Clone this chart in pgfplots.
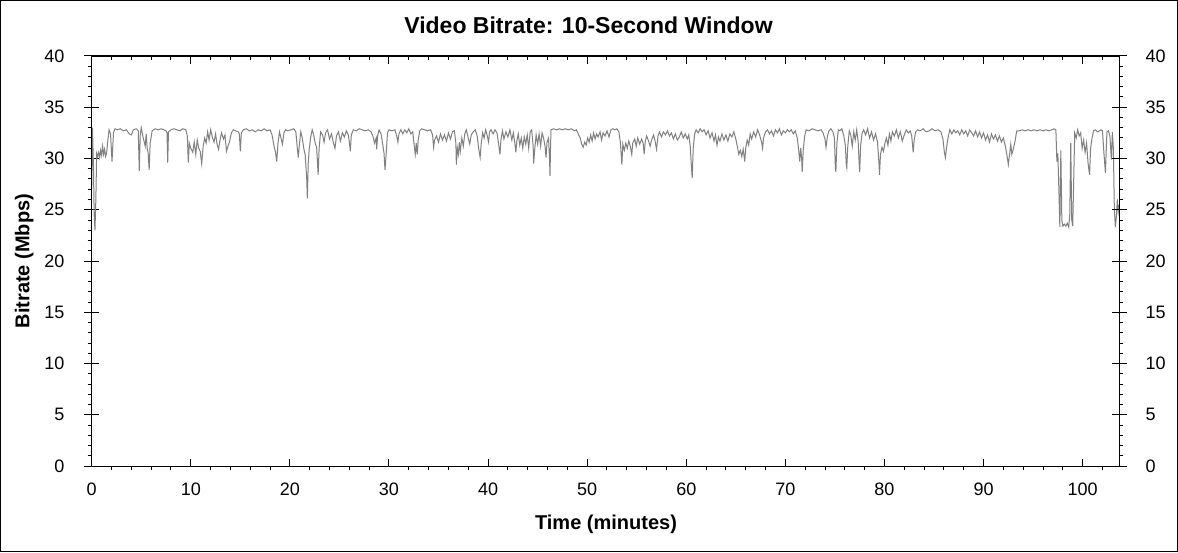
\documentclass[border=0pt]{standalone}
\usepackage{fontspec}
\setmainfont{Liberation Sans}
\usepackage{pgfplots}
\usepackage{pgfplotstable}
\pgfplotsset{compat=1.18}

\definecolor{trace}{RGB}{128,128,128}
\newcommand{\ticksize}{\fontsize{18}{21}\selectfont}

% 10-second window bitrate, minutes vs Mbps
\pgfplotstableread{
t v
0 27.0
0.08 33.0
0.17 29.5
0.25 24.5
0.33 23.0
0.42 26.0
0.5 30.5
0.6 30.2
0.7 30.6
0.8 30.1
0.9 30.8
1.0 30.3
1.1 31.2
1.2 30.4
1.3 30.9
1.4 30.2
1.5 30.5
1.6 31.5
1.75 32.8
1.9 32.4
2.05 29.7
2.2 32.5
2.35 32.9
2.6 32.8
2.9 32.9
3.2 32.7
3.5 32.8
3.8 32.4
4.0 32.3
4.2 32.8
4.5 32.9
4.7 32.7
4.8 28.8
4.9 32.3
5.0 33.0
5.2 32.0
5.4 31.2
5.5 32.4
5.6 31.0
5.7 30.5
5.8 28.9
5.9 31.5
6.1 32.7
6.4 32.9
6.7 32.8
7.0 32.9
7.3 32.8
7.5 32.7
7.6 32.5
7.67 29.6
7.75 32.6
8.0 32.8
8.3 32.9
8.6 32.8
8.9 32.7
9.2 32.9
9.5 32.8
9.65 32.2
9.75 29.6
9.85 31.5
10.0 31.0
10.2 30.6
10.35 31.6
10.5 30.4
10.65 31.8
10.8 31.0
10.95 30.7
11.1 29.5
11.25 31.2
11.4 32.0
11.55 31.5
11.7 32.6
11.85 31.8
12.0 32.8
12.2 32.0
12.35 31.6
12.5 32.4
12.65 31.4
12.8 30.9
12.95 31.8
13.1 32.5
13.3 31.9
13.45 32.3
13.6 30.7
13.75 31.2
13.9 31.6
14.1 32.5
14.3 32.8
14.5 32.7
14.8 32.6
14.9 32.4
15.0 30.7
15.1 32.5
15.3 32.8
15.6 32.9
15.9 32.7
16.2 32.8
16.5 32.6
16.8 32.8
17.1 32.7
17.4 32.9
17.7 32.7
18.0 32.8
18.2 32.3
18.4 31.2
18.55 30.6
18.67 29.7
18.8 31.5
18.95 32.6
19.1 32.0
19.25 31.4
19.4 32.5
19.55 32.8
19.8 32.7
20.1 32.8
20.4 32.9
20.6 32.6
20.75 31.0
20.85 30.1
20.95 31.3
21.1 32.6
21.25 32.0
21.4 31.0
21.55 30.3
21.7 28.0
21.76 26.1
21.85 29.5
21.95 30.9
22.1 32.1
22.25 32.8
22.4 32.3
22.55 31.5
22.7 31.1
22.85 28.4
22.95 31.0
23.1 32.6
23.3 32.3
23.45 31.6
23.6 32.5
23.8 32.8
24.0 31.9
24.2 32.4
24.4 31.5
24.55 31.0
24.7 32.2
24.9 32.6
25.1 31.7
25.3 32.5
25.5 32.1
25.7 32.7
25.9 32.3
26.0 31.6
26.1 30.7
26.2 32.3
26.4 32.8
26.7 32.7
27.0 32.9
27.3 32.8
27.6 32.7
27.9 32.8
28.2 32.6
28.4 32.1
28.55 31.5
28.7 32.0
28.76 30.9
28.85 32.2
29.0 32.8
29.2 32.4
29.35 31.5
29.5 30.5
29.6 28.9
29.7 30.2
29.85 32.5
30.0 32.8
30.3 32.7
30.6 32.8
30.8 32.1
30.9 31.6
31.0 32.4
31.2 32.8
31.4 32.4
31.6 32.8
31.8 32.5
32.0 32.9
32.2 32.4
32.4 32.6
32.55 31.2
32.65 30.4
32.75 31.5
32.85 30.4
32.95 31.8
33.1 32.7
33.3 32.9
33.6 32.8
33.9 32.7
34.2 32.8
34.4 32.3
34.5 31.1
34.6 31.8
34.8 32.2
35.0 31.6
35.2 32.4
35.4 31.8
35.6 32.3
35.8 31.7
36.0 32.5
36.2 31.9
36.4 32.6
36.6 32.7
36.75 31.5
36.8 29.4
36.9 31.0
37.0 30.4
37.1 31.6
37.2 30.7
37.35 32.0
37.5 31.2
37.65 32.4
37.8 32.8
38.0 32.0
38.15 31.4
38.3 32.3
38.5 32.6
38.7 32.8
38.9 32.2
39.05 31.0
39.2 30.1
39.3 31.4
39.45 32.5
39.6 32.0
39.75 32.8
39.9 32.3
40.05 31.6
40.15 32.6
40.3 32.8
40.5 32.4
40.7 32.8
40.9 32.5
41.05 31.5
41.2 30.4
41.3 31.8
41.45 32.7
41.6 31.9
41.8 32.6
42.0 32.1
42.2 32.8
42.4 31.8
42.55 32.5
42.7 31.5
42.8 30.6
42.9 31.7
43.05 32.4
43.2 31.3
43.35 32.0
43.5 31.0
43.65 32.1
43.8 31.4
43.95 32.3
44.1 31.0
44.25 32.6
44.4 32.8
44.55 31.2
44.6 29.5
44.7 30.8
44.85 32.3
45.0 31.4
45.15 32.4
45.3 31.2
45.45 32.5
45.6 32.0
45.75 31.2
45.85 30.1
45.95 31.6
46.1 32.0
46.2 30.0
46.25 28.3
46.3 31.0
46.35 32.8
46.6 32.9
46.9 32.8
47.2 32.9
47.5 32.8
47.8 32.9
48.1 32.8
48.4 32.9
48.7 32.7
48.9 32.8
49.1 32.4
49.3 32.0
49.45 31.4
49.6 31.1
49.75 31.6
49.9 31.3
50.05 32.0
50.2 31.6
50.35 32.3
50.5 31.7
50.65 32.5
50.8 31.9
50.95 32.4
51.1 32.1
51.3 32.6
51.45 31.8
51.6 32.5
51.8 32.2
52.0 32.7
52.2 32.1
52.4 32.8
52.6 32.9
52.8 32.8
53.0 32.9
53.2 32.6
53.35 31.6
53.5 29.4
53.6 31.4
53.75 30.8
53.9 31.5
54.05 31.0
54.2 31.7
54.35 31.2
54.5 30.4
54.6 31.5
54.8 31.9
54.95 31.2
55.1 32.0
55.3 31.4
55.5 31.9
55.65 31.5
55.75 30.4
55.85 31.6
56.0 32.2
56.2 31.7
56.35 31.2
56.5 31.8
56.7 32.3
56.85 31.7
57.0 30.9
57.15 32.2
57.3 32.6
57.5 32.1
57.7 32.6
57.9 32.3
58.1 32.7
58.3 32.2
58.5 32.5
58.7 31.9
58.9 32.4
59.1 31.8
59.3 32.1
59.5 32.6
59.7 32.0
59.9 32.4
60.1 31.9
60.25 32.3
60.4 31.2
60.5 29.5
60.6 28.1
60.7 31.0
60.85 32.4
61.0 32.8
61.2 32.5
61.4 32.9
61.6 32.6
61.8 32.8
62.0 32.3
62.2 32.7
62.4 32.0
62.6 32.5
62.8 31.7
62.95 32.3
63.1 31.3
63.25 32.1
63.4 31.7
63.6 32.4
63.8 31.8
64.0 32.3
64.2 31.7
64.4 32.4
64.6 32.1
64.8 32.6
65.0 31.9
65.15 31.2
65.3 30.4
65.45 30.8
65.6 30.2
65.75 30.9
65.9 29.7
66.0 31.0
66.15 31.8
66.3 31.3
66.45 32.4
66.6 31.9
66.8 32.6
67.0 32.1
67.2 32.8
67.4 32.3
67.6 31.6
67.7 31.0
67.8 32.0
68.0 32.6
68.2 32.8
68.4 32.4
68.6 32.7
68.8 32.2
69.0 32.8
69.2 32.5
69.4 32.9
69.6 32.3
69.8 32.7
70.0 32.5
70.2 32.8
70.4 32.6
70.6 32.8
70.8 32.4
71.0 32.7
71.2 32.0
71.35 30.8
71.45 29.7
71.55 31.0
71.65 29.9
71.7 28.7
71.8 30.8
71.95 32.2
72.1 32.8
72.4 32.7
72.7 32.9
73.0 32.8
73.3 32.7
73.6 32.8
73.8 32.5
74.0 31.9
74.1 31.1
74.25 32.2
74.4 32.7
74.6 32.9
74.8 32.6
74.95 32.0
75.05 29.0
75.1 28.7
75.2 31.5
75.35 32.8
75.5 32.7
75.7 32.9
75.9 32.2
76.05 31.3
76.15 29.4
76.2 29.1
76.3 31.2
76.45 32.7
76.6 32.3
76.75 31.2
76.9 32.6
77.05 31.8
77.2 32.8
77.35 31.6
77.45 29.5
77.5 28.7
77.6 31.3
77.75 32.5
77.9 32.8
78.1 32.3
78.3 32.9
78.5 32.0
78.7 32.6
78.9 31.8
79.1 32.4
79.3 31.6
79.45 29.5
79.5 28.4
79.6 30.4
79.75 31.1
79.9 30.7
80.05 31.5
80.2 32.0
80.35 31.3
80.5 32.4
80.65 31.7
80.8 32.6
81.0 32.2
81.2 32.8
81.4 32.0
81.6 32.6
81.8 31.7
82.0 32.3
82.2 32.8
82.4 32.5
82.6 32.7
82.75 32.2
82.9 30.6
83.0 31.8
83.15 32.6
83.35 32.8
83.6 32.7
83.9 32.9
84.2 32.6
84.5 32.7
84.8 32.9
85.1 32.7
85.4 32.8
85.7 32.6
85.9 31.9
86.05 30.6
86.15 30.1
86.3 31.3
86.45 32.2
86.6 32.8
86.8 32.4
87.0 32.8
87.2 32.5
87.4 32.7
87.6 32.3
87.8 32.8
88.0 32.4
88.2 32.7
88.4 32.2
88.6 32.8
88.8 32.5
89.0 32.2
89.2 32.7
89.4 32.1
89.6 32.6
89.8 32.0
90.0 32.5
90.2 31.8
90.4 32.3
90.6 31.6
90.8 32.4
91.0 31.9
91.2 32.3
91.4 31.7
91.6 32.2
91.8 31.6
92.0 32.0
92.2 31.2
92.35 30.4
92.5 29.4
92.6 30.2
92.75 31.4
92.85 30.4
93.0 30.9
93.2 31.8
93.35 32.7
93.6 32.7
93.9 32.8
94.2 32.7
94.5 32.8
94.8 32.7
95.1 32.8
95.4 32.7
95.7 32.8
96.0 32.7
96.3 32.8
96.6 32.7
96.9 32.8
97.1 32.9
97.3 32.8
97.4 29.7
97.5 30.5
97.6 27.0
97.7 23.3
97.8 30.8
97.9 24.0
98.0 23.4
98.15 23.6
98.3 23.4
98.45 23.7
98.6 23.3
98.7 24.5
98.8 31.5
98.9 24.0
99.0 23.4
99.1 28.0
99.2 32.5
99.35 32.0
99.5 32.8
99.65 32.2
99.8 32.5
99.95 31.0
100.1 31.8
100.25 30.6
100.4 31.5
100.55 29.5
100.7 28.4
100.8 31.0
100.95 32.0
101.1 32.7
101.3 32.8
101.5 32.6
101.7 32.7
101.85 32.8
102.0 32.7
102.15 30.5
102.3 28.6
102.45 32.6
102.6 32.7
102.75 32.2
102.9 29.9
103.0 32.6
103.1 31.0
103.2 25.0
103.3 23.3
103.4 24.3
103.5 26.0
103.6 24.8
103.7 25.5
}\bitrate

\pgfplotsset{
  frame/.style={
    scale only axis,
    width=1027.6pt, height=410pt,
    xmin=0, xmax=103.7, ymin=0, ymax=40,
    axis line style={line width=1pt},
    every tick/.style={black, line width=1pt},
    /pgf/number format/assume math mode=true,
    tick label style={font=\ticksize, inner sep=0pt},
  },
}

\begin{document}
\begin{tikzpicture}
% data, left labels, y major ticks across both y axes
\begin{axis}[frame,
    xtick=\empty,
    ytick={0,5,...,40}, ytick pos=both, yticklabel pos=left,
    tick align=center, major tick length=15pt,
    yticklabel style={xshift=-19.5pt},
]
\addplot[trace, line width=1pt] table[x=t, y=v] {\bitrate};
\end{axis}
% right-hand labels
\begin{axis}[frame,
    xtick=\empty,
    ytick={0,5,...,40}, ytick pos=right, yticklabel pos=right,
    tick align=center, major tick length=15pt,
    yticklabel style={xshift=18.5pt},
]
\end{axis}
% bottom major ticks, inside, with labels
\begin{axis}[frame,
    ytick=\empty,
    xtick={0,10,...,100}, xtick pos=bottom, xticklabel pos=lower,
    tick align=inside, major tick length=7pt,
    xticklabel style={yshift=-17pt},
]
\end{axis}
% minor ticks, outside
\begin{axis}[frame,
    xtick={0,10,...,100}, ytick={0,5,...,40},
    xticklabel=\empty, yticklabel=\empty,
    minor xtick={2,4,6,8,12,14,16,18,22,24,26,28,32,34,36,38,42,44,46,48,52,54,56,58,62,64,66,68,72,74,76,78,82,84,86,88,92,94,96,98,102},
    minor ytick={1,2,3,4,6,7,8,9,11,12,13,14,16,17,18,19,21,22,23,24,26,27,28,29,31,32,33,34,36,37,38,39},
    xtick pos=bottom, ytick pos=both,
    tick align=outside, major tick length=0pt, minor tick length=4pt,
]
\end{axis}
% top ticks, inside
\begin{axis}[frame,
    ytick=\empty,
    xtick={0,10,...,100}, xticklabel=\empty,
    minor xtick={2,4,6,8,12,14,16,18,22,24,26,28,32,34,36,38,42,44,46,48,52,54,56,58,62,64,66,68,72,74,76,78,82,84,86,88,92,94,96,98,102},
    xtick pos=top,
    tick align=inside, major tick length=8pt, minor tick length=4pt,
]
\end{axis}

\node[anchor=base, font=\bfseries\fontsize{23}{27}\selectfont] at (496.8pt,432pt) {Video Bitrate: 10-Second Window};
\node[anchor=base, font=\bfseries\fontsize{20}{24}\selectfont] at (514.3pt,-63pt) {Time (minutes)};
\node[anchor=base, rotate=90, font=\bfseries\fontsize{20}{24}\selectfont] at (-62.4pt,205pt) {Bitrate (Mbps)};
\draw[line width=1pt] (-91.2pt,-85.5pt) rectangle (1085.8pt,465.5pt);
\end{tikzpicture}
\end{document}
